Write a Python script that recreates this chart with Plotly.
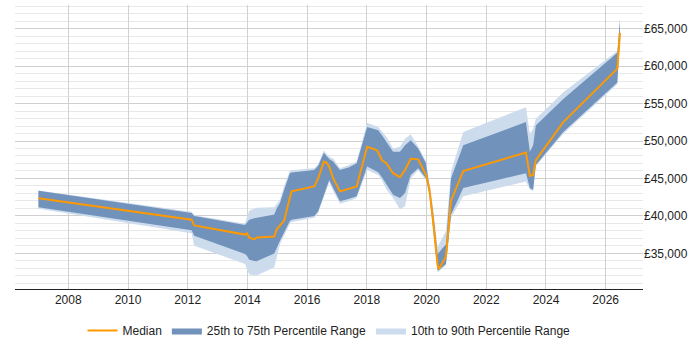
import plotly.graph_objects as go

years = [2007.00, 2012.13, 2012.22, 2013.92, 2013.98, 2014.03, 2014.06, 2014.23, 2014.31, 2014.90,
         2014.98, 2015.09, 2015.23, 2015.42, 2015.48, 2016.24, 2016.37, 2016.56, 2016.65, 2016.74,
         2016.87, 2017.10, 2017.41, 2017.66, 2018.01, 2018.33, 2018.38, 2018.50, 2018.66, 2018.88,
         2019.11, 2019.28, 2019.47, 2019.72, 2019.98, 2020.09, 2020.22, 2020.37, 2020.41, 2020.65,
         2020.82, 2021.23, 2023.33, 2023.46, 2023.57, 2023.66, 2024.58, 2026.39, 2026.48]

median = [42350, 39500, 38740, 37510, 37680, 37300, 37110, 36890, 37110, 37250,
          38210, 38720, 39400, 42400, 43280, 43940, 45000, 47250, 47110, 46590,
          45040, 43280, 43680, 43940, 49230, 48780, 48500, 47460, 47020, 45700,
          45170, 46140, 47640, 47550, 45480, 43720, 39320, 33400, 32930, 34600,
          42040, 46000, 48470, 45340, 45480, 47460, 52530, 59660, 64420]

p75 = [43360, 40400, 39980, 38790, 39100, 39400, 39500, 39700, 39760, 40190,
       41000, 41740, 43500, 45700, 45800, 46140, 46700, 48430, 48000, 47600,
       47250, 46140, 46500, 47020, 51870, 51500, 51420, 50800, 49890, 48570,
       48570, 49440, 50100, 49000, 47020, 44150, 40420, 34910, 35100, 36230,
       45040, 49440, 52530, 48570, 49440, 52080, 55610, 61780, 66180]

p25 = [41170, 38100, 37340, 34910, 34700, 34250, 34150, 34000, 33940, 35000,
       35800, 36680, 37800, 39320, 39500, 39980, 40640, 42810, 43800, 44810,
       43720, 41960, 42300, 42620, 46590, 46000, 45830, 45200, 44150, 42830,
       42400, 43060, 45480, 46360, 45040, 43060, 38430, 32710, 32800, 33590,
       40190, 43720, 45700, 43720, 43490, 46800, 51210, 57810, 63800]

p90 = [43410, 40550, 40100, 38960, 39800, 40510, 40700, 40950, 41080, 41170,
       41600, 42170, 44000, 46000, 46100, 46360, 46900, 48740, 48300, 47900,
       47680, 46360, 46800, 47250, 52440, 52000, 51870, 51300, 50550, 49000,
       49230, 50320, 50890, 49270, 47290, 44510, 41080, 35790, 36200, 38000,
       45920, 51210, 54510, 50980, 51650, 52970, 56490, 62000, 66180]

p10 = [40950, 37700, 36020, 33590, 33000, 32270, 32200, 32100, 32050, 33150,
       34500, 36230, 37400, 38960, 39200, 39760, 40400, 42530, 43500, 44510,
       43320, 41610, 42000, 42400, 46140, 45600, 45480, 44800, 43490, 42400,
       40850, 41300, 45040, 46100, 44780, 42790, 38170, 32490, 32600, 33410,
       39760, 42620, 44600, 43500, 43320, 46620, 50980, 57590, 63500]

tick_years = [2008, 2010, 2012, 2014, 2016, 2018, 2020, 2022, 2024, 2026]
tick_values = [35000, 40000, 45000, 50000, 55000, 60000, 65000]

LIGHT = "rgb(205,220,237)"
DARK = "rgb(112,146,187)"
ORANGE = "rgb(255,153,0)"
FONT = "Arial"

fig = go.Figure()
fig.add_trace(go.Scatter(x=years, y=p10, mode="lines", line=dict(width=0, color=LIGHT),
                         showlegend=False, hoverinfo="skip"))
fig.add_trace(go.Scatter(x=years, y=p90, mode="lines", line=dict(width=0, color=LIGHT),
                         fill="tonexty", fillcolor=LIGHT, name="10th to 90th Percentile Range",
                         legendrank=3))
fig.add_trace(go.Scatter(x=years, y=p25, mode="lines", line=dict(width=0, color=DARK),
                         showlegend=False, hoverinfo="skip"))
fig.add_trace(go.Scatter(x=years, y=p75, mode="lines", line=dict(width=0, color=DARK),
                         fill="tonexty", fillcolor=DARK, name="25th to 75th Percentile Range",
                         legendrank=2))
fig.add_trace(go.Scatter(x=years, y=median, mode="lines", line=dict(width=2, color=ORANGE),
                         name="Median", legendrank=1))

fig.update_layout(
    width=700, height=350,
    margin=dict(l=15, r=57, t=5, b=58),
    plot_bgcolor="white", paper_bgcolor="white",
    font=dict(family=FONT, size=12, color="#222"),
    legend=dict(orientation="h", x=0.5, xanchor="center", y=-0.146, yanchor="middle",
                font=dict(family=FONT, size=12, color="#222"), traceorder="normal",
                itemwidth=30),
    showlegend=True,
)
fig.update_xaxes(range=[2006.215, 2027.25], tickvals=tick_years,
                 ticktext=[str(y) for y in tick_years],
                 showgrid=True, gridcolor="#d0d0d0", gridwidth=1,
                 showline=True, linecolor="#222", linewidth=1, zeroline=False,
                 ticks="", tickfont=dict(family=FONT, size=12, color="#222"))
fig.update_yaxes(range=[30250, 68150], side="right", tickvals=tick_values,
                 ticktext=["£{:,}".format(v) for v in tick_values],
                 showgrid=True, gridcolor="#d0d0d0", gridwidth=1,
                 minor=dict(dtick=1000, tick0=0, showgrid=True, gridcolor="#e8e8e8", gridwidth=1),
                 showline=False, zeroline=False, ticks="",
                 tickfont=dict(family=FONT, size=12, color="#222"))

fig.write_html("out.html")
